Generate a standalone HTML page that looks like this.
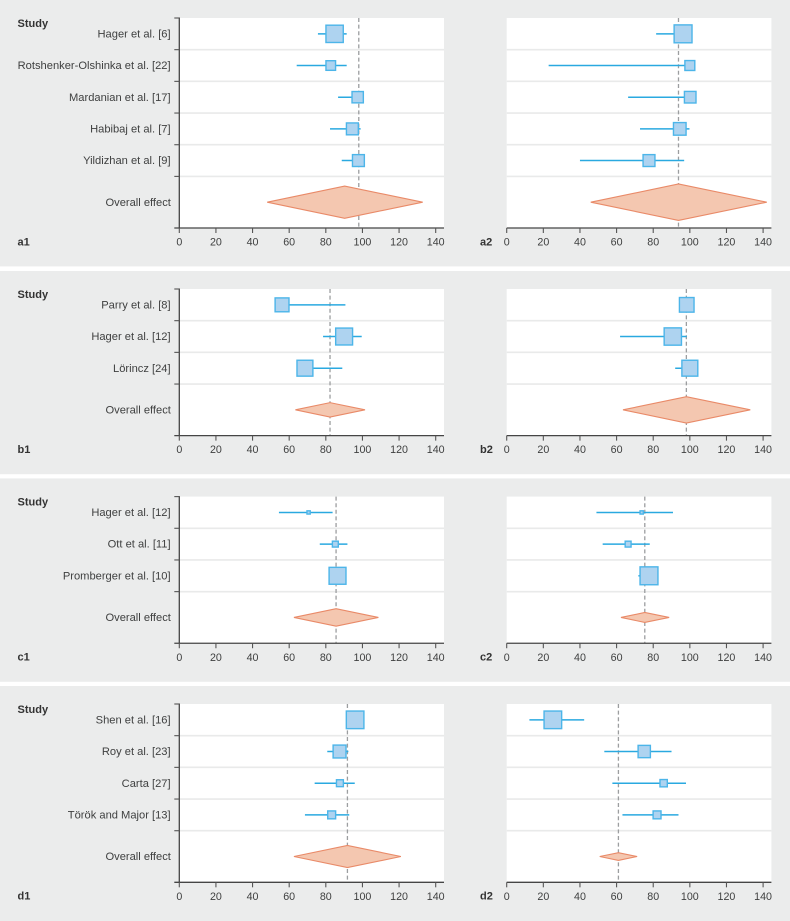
<!DOCTYPE html>
<html lang="en">
<head>
<meta charset="utf-8">
<title>Forest plots</title>
<style>
html,body{margin:0;padding:0;background:#fff;width:790px;height:921px;overflow:hidden}
svg{display:block}
text{font-family:"Liberation Sans",sans-serif;fill:#3f4040;font-size:11.15px}
.tick{font-size:10.7px}
.bold{font-weight:bold;fill:#333;font-size:11px}
</style>
</head>
<body>
<svg id="chart" xmlns="http://www.w3.org/2000/svg" width="790" height="921" viewBox="0 0 790 921"></svg>
<script>
// ---------- tick labels ----------
const xTicks = [0, 20, 40, 60, 80, 100, 120, 140];
const overallLabel = "Overall effect";

// ---------- categories ----------
const studiesA = ["Hager et al. [6]", "Rotshenker-Olshinka et al. [22]", "Mardanian et al. [17]", "Habibaj et al. [7]", "Yildizhan et al. [9]"];
const studiesB = ["Parry et al. [8]", "Hager et al. [12]", "Lörincz [24]"];
const studiesC = ["Hager et al. [12]", "Ott et al. [11]", "Promberger et al. [10]"];
const studiesD = ["Shen et al. [16]", "Roy et al. [23]", "Carta [27]", "Török and Major [13]"];

// ---------- series values: effect, CI low, CI high, weight ----------
const a1Means = [84.8, 82.7, 97.4, 94.5, 97.8];
const a1Lows = [75.7, 64.1, 86.7, 82.3, 88.7];
const a1Highs = [91.4, 91.4, 99, 99, 100];
const a1Weights = [35.5, 12.3, 16.4, 17.9, 17.9];
const a1Overall = [48, 90.3, 132.9];
const a1Reference = 98;

const a2Means = [96.3, 100, 100.2, 94.5, 77.7];
const a2Lows = [81.6, 22.9, 66.3, 72.8, 40];
const a2Highs = [100, 101, 102, 99.8, 96.9];
const a2Weights = [37.8, 13, 17.1, 19.9, 17.9];
const a2Overall = [45.9, 93.8, 142];
const a2Reference = 93.8;

const b1Means = [56.1, 90, 68.6];
const b1Lows = [55, 78.5, 67];
const b1Highs = [90.7, 99.6, 89];
const b1Weights = [23.7, 34, 30.4];
const b1Overall = [63.4, 82.3, 101.4];
const b1Reference = 82.3;

const b2Means = [98.3, 90.7, 100];
const b2Lows = [97, 61.9, 92];
const b2Highs = [100, 98.3, 102];
const b2Weights = [26, 35.5, 30.4];
const b2Overall = [63.5, 98.1, 133];
const b2Reference = 98.1;

const c1Means = [70.6, 85.2, 86.4];
const c1Lows = [54.4, 76.7, 83];
const c1Highs = [83.7, 91.8, 90];
const c1Weights = [2.2, 5.4, 34];
const c1Overall = [62.6, 85.6, 108.7];
const c1Reference = 85.6;

const c2Means = [73.7, 66.3, 77.7];
const c2Lows = [49, 52.4, 71.9];
const c2Highs = [90.8, 78.1, 80];
const c2Weights = [2.2, 5.4, 37.8];
const c2Overall = [62.4, 75.4, 88.7];
const c2Reference = 75.4;

const d1Means = [96, 87.5, 87.7, 83.2];
const d1Lows = [93, 80.8, 73.9, 68.6];
const d1Highs = [99, 92.3, 95.8, 92.8];
const d1Weights = [36.6, 20.7, 7, 8.8];
const d1Overall = [62.6, 91.8, 121];
const d1Reference = 91.8;

const d2Means = [25.2, 75.1, 85.7, 82.1];
const d2Lows = [12.4, 53.3, 57.7, 63.2];
const d2Highs = [42.3, 90, 97.9, 93.8];
const d2Weights = [36.6, 19, 7.7, 8.8];
const d2Overall = [50.8, 61, 71.2];
const d2Reference = 61;

// ---------- layout & helpers ----------
const NS = "http://www.w3.org/2000/svg";
const root = document.getElementById("chart");
const ROW_H = 31.68;
const OVERALL_H = 51.6;
const PX_PER_UNIT = 256.4 / 140;

function node(parent, tag, attrs, text) {
  const el = document.createElementNS(NS, tag);
  for (const k in attrs) el.setAttribute(k, attrs[k]);
  if (text !== undefined) el.textContent = text;
  parent.appendChild(el);
  return el;
}
function xScale(origin) { return function (v) { return origin + v * PX_PER_UNIT; }; }
function boxSize(w) { return 3.14 * Math.sqrt(w); }

function drawPlot(cfg) {
  const g = node(root, "g", {});
  
  
  const x = xScale(cfg.origin);
  const n = cfg.means.length;
  const top = cfg.top;
  const rowsEnd = top + n * ROW_H;
  const axisY = rowsEnd + OVERALL_H;
  const rightEdge = cfg.origin + 264.7;

  const plotBg = node(g, "rect", { x: cfg.origin, y: top, width: rightEdge - cfg.origin, height: axisY - top, fill: "#fff" });
  
  

  // row separators
  for (let i = 1; i <= n; i++) {
    const sep = node(g, "line", { x1: cfg.origin, x2: rightEdge, y1: top + i * ROW_H, y2: top + i * ROW_H, stroke: "#e9eaea", "stroke-width": 1.6 });
    
    
  }

  // reference line
  const ref = node(g, "line", { x1: x(cfg.reference), x2: x(cfg.reference), y1: top, y2: axisY, stroke: "#9c9ea0", "stroke-width": 1.3, "stroke-dasharray": "4 2.6" });
  
  

  // study rows
  for (let i = 0; i < n; i++) {
    const cy = top + (i + 0.5) * ROW_H;
    if (cfg.labels) {
      const lab = node(g, "text", { x: 170.6, y: cy + 3.6, "text-anchor": "end" }, cfg.studies[i]);
      
      
    }
    const ci = node(g, "line", { x1: x(cfg.lows[i]), x2: x(cfg.highs[i]), y1: cy, y2: cy, stroke: "#2aa9e0", "stroke-width": 1.5 });
    
    
    const s = boxSize(cfg.weights[i]);
    const box = node(g, "rect", { x: x(cfg.means[i]) - s / 2 + 0.7, y: cy - s / 2 + 0.7, width: s - 1.4, height: s - 1.4, fill: "#aed3f0", stroke: "#4cb5e9", "stroke-width": 1.4 });
    
    
  }

  // overall diamond
  const oy = rowsEnd + OVERALL_H / 2;
  const xl = x(cfg.overall[0]), xm = x(cfg.overall[1]), xh = x(cfg.overall[2]);
  const hh = (xh - xl) * 0.207 / 2;
  const dia = node(g, "polygon", { points: [xl + "," + oy, xm + "," + (oy - hh), xh + "," + oy, xm + "," + (oy + hh)].join(" "), fill: "#f4c7b0", stroke: "#e98a68", "stroke-width": 1.1 });
  
  

  if (cfg.labels) {
    const ol = node(g, "text", { x: 170.9, y: oy + 3.6, "text-anchor": "end" }, overallLabel);
    
    
    const st = node(g, "text", { x: 17.5, y: top + 9, "class": "bold" }, "Study");
    
    

    // y axis with ticks
    const ya = node(g, "line", { x1: cfg.origin, x2: cfg.origin, y1: top - 0.5, y2: axisY, stroke: "#454545", "stroke-width": 1.3 });
    
    
    for (let i = 0; i <= n; i++) {
      const t = node(g, "line", { x1: cfg.origin - 5, x2: cfg.origin, y1: top + i * ROW_H, y2: top + i * ROW_H, stroke: "#555", "stroke-width": 1.1 });
      
      
    }
  }

  // x axis
  const xa = node(g, "line", { x1: cfg.labels ? cfg.origin - 5 : cfg.origin, x2: rightEdge, y1: axisY, y2: axisY, stroke: "#454545", "stroke-width": 1.3 });
  
  
  for (let i = 0; i < xTicks.length; i++) {
    const tk = node(g, "line", { x1: x(xTicks[i]), x2: x(xTicks[i]), y1: axisY, y2: axisY + 5, stroke: "#555", "stroke-width": 1.1 });
    
    
    const tl = node(g, "text", { x: x(xTicks[i]), y: axisY + 17.6, "text-anchor": "middle", "class": "tick" }, String(xTicks[i]));
    
    
  }

  // panel tag
  const tag = node(g, "text", { x: cfg.tagX, y: axisY + 17.4, "class": "bold" }, cfg.id);
  
  
}

// panel backgrounds
const bgTops = [0, 271, 478.4, 686];
const bgHeights = [266.4, 203.2, 203.4, 235];
for (let i = 0; i < bgTops.length; i++) {
  const r = node(root, "rect", { x: 0, y: bgTops[i], width: 790, height: bgHeights[i], fill: "#ebecec" });
  
  
}

const LEFT = 179.3, RIGHT = 506.7, TAG_L = 17.5, TAG_R = 480;
drawPlot({ id: "a1", origin: LEFT, top: 18, tagX: TAG_L, labels: true, studies: studiesA, means: a1Means, lows: a1Lows, highs: a1Highs, weights: a1Weights, overall: a1Overall, reference: a1Reference });
drawPlot({ id: "a2", origin: RIGHT, top: 18, tagX: TAG_R, labels: false, studies: studiesA, means: a2Means, lows: a2Lows, highs: a2Highs, weights: a2Weights, overall: a2Overall, reference: a2Reference });
drawPlot({ id: "b1", origin: LEFT, top: 289, tagX: TAG_L, labels: true, studies: studiesB, means: b1Means, lows: b1Lows, highs: b1Highs, weights: b1Weights, overall: b1Overall, reference: b1Reference });
drawPlot({ id: "b2", origin: RIGHT, top: 289, tagX: TAG_R, labels: false, studies: studiesB, means: b2Means, lows: b2Lows, highs: b2Highs, weights: b2Weights, overall: b2Overall, reference: b2Reference });
drawPlot({ id: "c1", origin: LEFT, top: 496.6, tagX: TAG_L, labels: true, studies: studiesC, means: c1Means, lows: c1Lows, highs: c1Highs, weights: c1Weights, overall: c1Overall, reference: c1Reference });
drawPlot({ id: "c2", origin: RIGHT, top: 496.6, tagX: TAG_R, labels: false, studies: studiesC, means: c2Means, lows: c2Lows, highs: c2Highs, weights: c2Weights, overall: c2Overall, reference: c2Reference });
drawPlot({ id: "d1", origin: LEFT, top: 704, tagX: TAG_L, labels: true, studies: studiesD, means: d1Means, lows: d1Lows, highs: d1Highs, weights: d1Weights, overall: d1Overall, reference: d1Reference });
drawPlot({ id: "d2", origin: RIGHT, top: 704, tagX: TAG_R, labels: false, studies: studiesD, means: d2Means, lows: d2Lows, highs: d2Highs, weights: d2Weights, overall: d2Overall, reference: d2Reference });
</script>
</body>
</html>
